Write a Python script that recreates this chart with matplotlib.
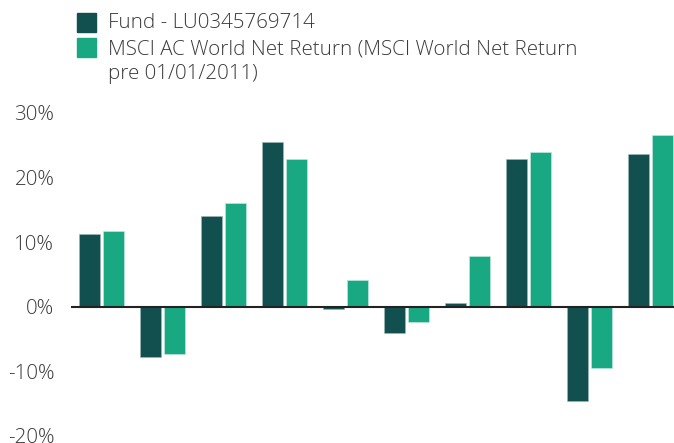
import matplotlib
matplotlib.use('Agg')
import matplotlib.pyplot as plt
from matplotlib.patches import Rectangle
import numpy as np

FundName = 'Fund - LU0345769714'
BenchName = 'MSCI AC World Net Return (MSCI World Net Return\npre 01/01/2011)'
fund = [11.3, -7.8, 14.0, 25.5, -0.35, -4.1, 0.6, 22.9, -14.7, 23.7]
bench = [11.7, -7.3, 16.1, 22.9, 4.2, -2.4, 7.8, 24.0, -9.5, 26.6]
y_ticks = [-20, -10, 0, 10, 20, 30]
y_labels = ['-20%', '-10%', '0%', '10%', '20%', '30%']

DarkCol = '#124f4f'
GreenCol = '#18a983'
TextCol = '#3a3a3a'
FontSize = 14.8

plt.rcParams['font.family'] = ['Open Sans', 'DejaVu Sans']
plt.rcParams['font.weight'] = 'light'

W, H = 674, 443
fig = plt.figure(figsize=(W/100, H/100), dpi=100)
ax = fig.add_axes([71/W, 7.3/H, (W-71)/W, 322.7/H])

x = np.arange(len(fund))
bw = 0.34
off = 0.197
ax.bar(x - off, fund, bw, color=DarkCol, edgecolor='#9fb9b9', linewidth=0.4)
ax.bar(x + off, bench, bw, color=GreenCol, edgecolor='#c8ece2', linewidth=0.4)
ax.axhline(0, color='#222222', linewidth=1.5, zorder=3)

ax.set_xlim(-0.5, -0.5 + (W-71)/61)
ax.set_ylim(-20, 30)
ax.set_xticks([])
ax.set_yticks(y_ticks)
ax.set_yticklabels(y_labels)
ax.tick_params(axis='y', length=0, pad=12, labelsize=FontSize, labelcolor=TextCol)
for s in ax.spines.values():
    s.set_visible(False)

# legend drawn by hand so the swatch sits on the first line
fig.add_artist(Rectangle((77/W, 1-32/H), 19/W, 19/H, transform=fig.transFigure,
                         color=DarkCol))
fig.add_artist(Rectangle((77/W, 1-57/H), 19/W, 19/H, transform=fig.transFigure,
                         color=GreenCol))
fig.text(108/W, 1-23/H, FundName, fontsize=FontSize, color=TextCol, va='center')
fig.text(108/W, 1-62/H, BenchName, fontsize=FontSize, color=TextCol, va='center',
         linespacing=1.3)

fig.savefig('out.png', dpi=100)
